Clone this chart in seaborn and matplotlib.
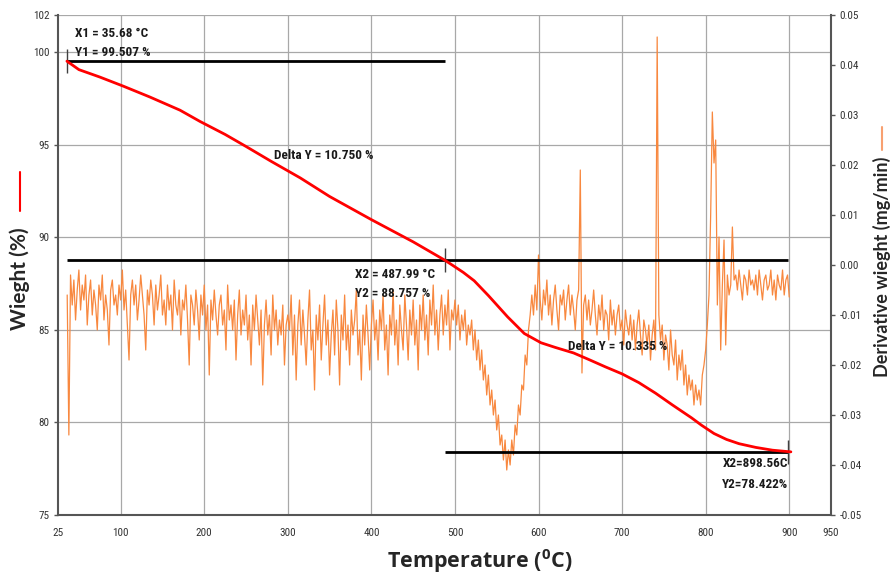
import numpy as np
import pandas as pd
import matplotlib
matplotlib.use("Agg")
import matplotlib.pyplot as plt
import seaborn as sns
from matplotlib import font_manager

# ---------------- data ----------------
tga_temp = [35.68, 50, 75, 103, 135, 171, 195, 225, 250, 280, 315, 350, 400, 450, 487.99,
            500, 510, 523, 540, 563, 583, 603, 620, 642, 660, 680, 700, 720, 740, 760,
            783, 795, 810, 825, 840, 860, 880, 898.56, 902]
tga_weight = [99.507, 99.05, 98.65, 98.16, 97.57, 96.86, 96.25, 95.55, 94.9, 94.1, 93.2,
              92.2, 90.95, 89.75, 88.757, 88.4, 88.1, 87.65, 86.85, 85.7, 84.8, 84.3,
              84.05, 83.75, 83.4, 83.0, 82.62, 82.15, 81.58, 80.95, 80.25, 79.85, 79.4,
              79.08, 78.85, 78.65, 78.5, 78.422, 78.41]

# derivative weight, in units of 1e-4 mg/min, sampled every 2 degC from each segment start
deriv_step = 2
seg_a_start = 36
seg_a = [-60, -340, -20, -80, -30, -110, -50, -10, -90, -40, -70, -20, -120, -60, -30, -100,
         -50, -80, -130, -40, -70, -20, -110, -60, -90, -160, -50, -30, -80, -60, -100, -40,
         -70, -10, -90, -50, -120, -190, -60, -30, -80, -40, -110, -70, -20, -60, -100, -170,
         -50, -80, -30, -60, -120, -40, -90, -60, -20, -100]
seg_b_start = 152
seg_b = [-70, -120, -40, -90, -60, -130, -30, -80, -100, -50,
         -140, -70, -90, -40, -110, -200, -60, -80, -120, -50,
         -90, -150, -60, -100, -40, -130, -80, -220, -70, -110,
         -50, -100, -140, -80, -60, -120, -90, -170, -40, -110,
         -80, -130, -70, -190, -100, -50, -140, -90, -120, -60,
         -150, -100, -200, -80, -130, -60, -110, -160, -90, -240,
         -120, -70, -140, -100, -180, -60, -130, -90, -160, -110,
         -140, -80, -200, -120, -100]
seg_c_start = 302
seg_c = [-130, -60, -180, -100, -230, -120, -70, -160, -90, -140,
         -200, -110, -50, -170, -130, -250, -100, -150, -80, -190,
         -120, -60, -160, -110, -220, -140, -90, -180, -70, -130,
         -240, -100, -150, -60, -170, -120, -200, -90, -140, -110,
         -50, -180, -130, -230, -100, -160, -80, -140, -210, -120,
         -70, -150, -110, -190, -90, -130, -60, -170, -120, -220,
         -100, -140, -50, -160, -110, -200, -80, -130, -170, -60,
         -120, -190, -90, -140, -70, -160, -110, -210, -80, -130,
         -60, -150, -100, -180, -70, -120, -40, -140, -90, -170]
seg_d_start = 482
seg_d = [-100, -60, -140, -80, -120, -50, -170, -90, -110, -70]
seg_e_start = 502
seg_e = [-120, -80, -150, -100, -130, -90, -160, -120, -140, -110,
         -170, -130, -190, -150, -210, -170, -230, -200, -260, -220,
         -280, -250, -300, -270, -330, -300, -360, -340, -390, -350,
         -410, -370, -400, -350, -380, -320, -340, -280, -300, -240,
         -250, -180, -200, -130, -100]
seg_f_start = 592
seg_f = [-60, -100, -40, -90, 20, -70, -110, -50, -80, -30,
         -100, -60, -120, -70, -40, -90, -130, -60, -80, -50,
         -110, -70, -40, -100, -60, -90, -130, -70, -50, 190,
         -216, -80, -60, -110, -70, -120, -90, -50, -100, -140,
         -80, -110, -60, -130, -90, -100, -150, -70, -120, -90,
         -140, -100, -80, -130, -110, -160, -90, -120, -140, -100,
         -150, -110, -170, -120, -90, -140, -180, -110, -130, -160,
         -120, -190, -140, -110, -170]
seg_g_start = 742
seg_g = [456, -100, -150, -120, -190, -140, -160, -210, -130, -180,
         -200, -150, -230, -180, -210, -170, -240, -200, -260, -220,
         -250, -230, -280, -240, -270, -250, -280, -220, -200, -170]
seg_h_start = 802
seg_h = [-120, -60, 100, 306, 204, 250, -80, 56, -170, -40, 50, -160, -20, -60, -40, 76, -30]
seg_i_start = 836
seg_i = [-20, -50, -10, -40, -70, -20, -30, -60, -10, -40,
         -30, -50, -20, -60, -10, -40, -70, -30, -20, -50,
         -40, -10, -60, -30, -70, -20, -40, -50, -10, -60,
         -30, -20, -64]

x_ticks = [25, 100, 200, 300, 400, 500, 600, 700, 800, 900, 950]
y_left_ticks = [75, 80, 85, 90, 95, 100, 102]
y_right_ticks = [-0.05, -0.04, -0.03, -0.02, -0.01, 0.00, 0.01, 0.02, 0.03, 0.04, 0.05]

x1, y1 = 35.68, 99.507
x2, y2 = 487.99, 88.757
x3, y3 = 898.56, 78.422

# ---------------- build frames ----------------
segments = [(seg_a_start, seg_a), (seg_b_start, seg_b), (seg_c_start, seg_c),
            (seg_d_start, seg_d), (seg_e_start, seg_e), (seg_f_start, seg_f),
            (seg_g_start, seg_g), (seg_h_start, seg_h), (seg_i_start, seg_i)]
dt, dv = [], []
for start, vals in segments:
    for i, v in enumerate(vals):
        dt.append(start + deriv_step * i)
        dv.append(v * 1e-4)
deriv_df = pd.DataFrame({"T": dt, "D": dv})
tga_df = pd.DataFrame({"T": tga_temp, "W": tga_weight})

# ---------------- fonts ----------------
avail = {f.name for f in font_manager.fontManager.ttflist}
narrow = next((f for f in ["Liberation Sans Narrow", "Roboto Condensed", "Open Sans Condensed",
                           "DejaVu Sans"] if f in avail), "DejaVu Sans")
bottom_font = next((f for f in ["Open Sans", "Lato", "DejaVu Sans"] if f in avail), "DejaVu Sans")
label_font = next((f for f in ["Lato", "Open Sans", "DejaVu Sans"] if f in avail), "DejaVu Sans")

sns.set_theme(style="white")
plt.rcParams["font.family"] = [narrow, "DejaVu Sans"]

fig = plt.figure(figsize=(8.92, 5.75), dpi=100)
ax = fig.add_axes([58 / 892, 60 / 575, (831 - 58) / 892, (515 - 15) / 575])
ax2 = ax.twinx()

# derivative (right axis)
sns.lineplot(data=deriv_df, x="T", y="D", ax=ax2, color="#F8883F", lw=0.9,
             sort=False, estimator=None, zorder=2)
ax2.set_ylim(-0.05, 0.05)
ax2.set_yticks(y_right_ticks)
ax2.set_yticklabels([f"{v:.2f}" for v in y_right_ticks])
ax2.set_ylabel("")

# left axis in front
ax.set_zorder(ax2.get_zorder() + 1)
ax.patch.set_visible(False)

ax.set_xlim(25, 950)
ax.set_ylim(75, 102)
ax.set_xticks(x_ticks)
ax.set_xticklabels([str(t) for t in x_ticks])
ax.set_yticks(y_left_ticks)
ax.set_yticklabels([str(t) for t in y_left_ticks])

# grid (drawn on ax2 so it sits behind curves)
for t in x_ticks[1:-1]:
    ax2.axvline(t, color="#A8A8A8", lw=0.9, zorder=0)
for t in y_left_ticks[1:]:
    yv = -0.05 + (t - 75) / 27 * 0.1
    ax2.axhline(yv, color="#A8A8A8", lw=0.9, zorder=0)

# horizontal reference lines
ax.hlines(y1, x1, x2, color="black", lw=2)
ax.hlines(y2, x1, x3, color="black", lw=2)
ax.hlines(y3, x2, x3, color="black", lw=2)
for xv, yv in [(x1, y1), (x2, y2), (x3, y3)]:
    ax.vlines(xv, yv - 0.65, yv + 0.65, color="#404040", lw=1)

# TGA curve
sns.lineplot(data=tga_df, x="T", y="W", ax=ax, color="#FF0000", lw=2,
             sort=False, estimator=None, zorder=5)
ax.set_xlabel("")
ax.set_ylabel("")

# annotations
ann_kw = dict(fontsize=9.5, color="#1a1a1a", fontweight="bold")
ax.text(45, 101.0, "X1 = 35.68 °C", ha="left", va="center", **ann_kw)
ax.text(45, 99.95, "Y1 = 99.507 %", ha="left", va="center", **ann_kw)
ax.text(283, 94.4, "Delta Y = 10.750 %", ha="left", va="center", **ann_kw)
ax.text(380, 88.0, "X2 = 487.99 °C", ha="left", va="center", **ann_kw)
ax.text(380, 86.95, "Y2 = 88.757 %", ha="left", va="center", **ann_kw)
ax.text(635, 84.1, "Delta Y = 10.335 %", ha="left", va="center", **ann_kw)
ax.text(820, 77.8, "X2=898.56C", ha="left", va="center", **ann_kw)
ax.text(820, 76.65, "Y2=78.422%", ha="left", va="center", **ann_kw)

# spines & ticks
for a in (ax, ax2):
    for s in a.spines.values():
        s.set_visible(False)
ax.spines["left"].set_visible(True)
ax.spines["bottom"].set_visible(True)
ax2.spines["right"].set_visible(True)
for s in [ax.spines["left"], ax.spines["bottom"], ax2.spines["right"]]:
    s.set_color("#555555")
    s.set_linewidth(1.5)
ax.tick_params(axis="both", direction="out", length=3, width=1, color="#555555",
               labelsize=8, labelcolor="#333333", pad=3)
ax2.tick_params(axis="y", direction="out", length=3, width=1, color="#555555",
                labelsize=8, labelcolor="#333333", pad=3)
ax.tick_params(axis="x", pad=6)

# axis titles and legend marks
fig.text(480 / 892, 1 - 561 / 575, "Temperature ($\\mathregular{^0}$C)", ha="center", va="center",
         fontsize=15.5, fontweight="bold", family=bottom_font)
fig.text(20 / 892, 1 - 279 / 575, "Wieght (%)", rotation=90, ha="center", va="center",
         fontsize=15, fontweight="bold", family=label_font)
fig.text(882 / 892, 1 - 267 / 575, "Derivative wieght (mg/min)", rotation=90, ha="center",
         va="center", fontsize=13, fontweight="bold", family=label_font)
fig.add_artist(plt.Line2D([20 / 892, 20 / 892], [1 - 172 / 575, 1 - 211 / 575],
                          color="#FF0000", lw=1.5, transform=fig.transFigure))
fig.add_artist(plt.Line2D([882 / 892, 882 / 892], [1 - 127 / 575, 1 - 150 / 575],
                          color="#F8A070", lw=1.5, transform=fig.transFigure))

fig.savefig("out.png", dpi=100)
